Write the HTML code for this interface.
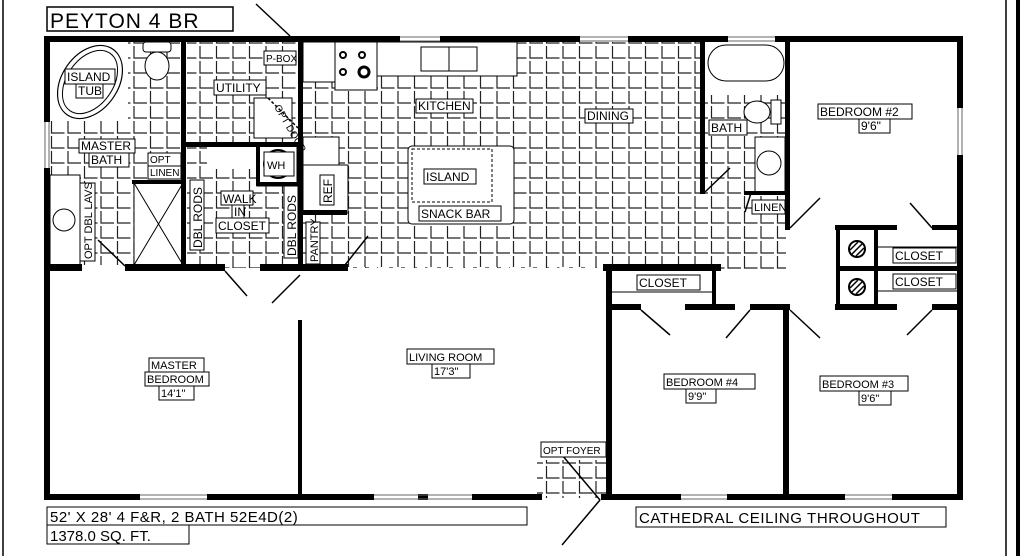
<!DOCTYPE html>
<html><head><meta charset="utf-8"><style>
html,body{margin:0;padding:0;background:#fff;}
svg{display:block}
text{font-family:"Liberation Sans",sans-serif;fill:#000;}
</style></head><body>
<svg width="1024" height="556" viewBox="0 0 1024 556" xmlns="http://www.w3.org/2000/svg">
<defs>
<pattern id="t" width="16.5" height="15" patternUnits="userSpaceOnUse">
<path d="M2 1 V13 H15" fill="none" stroke="#222" stroke-width="1.2"/>
</pattern>
</defs>
<rect width="1024" height="556" fill="#fff"/>
<line x1="3" y1="0" x2="3" y2="556" stroke="#000" stroke-width="1.5"/>
<line x1="1006" y1="0" x2="1006" y2="556" stroke="#000" stroke-width="1.5"/>
<line x1="1018" y1="0" x2="1018" y2="556" stroke="#000" stroke-width="4"/>
<rect x="50" y="42" width="133" height="223" fill="url(#t)"/>
<rect x="187" y="42" width="113" height="226" fill="url(#t)"/>
<rect x="300" y="42" width="400" height="226" fill="url(#t)"/>
<rect x="700" y="95" width="86" height="175" fill="url(#t)"/>
<rect x="537" y="440" width="69" height="58" fill="url(#t)"/>
<line x1="345" y1="268" x2="606" y2="268" stroke="#fff" stroke-width="2" stroke-dasharray="8 4"/>
<rect x="50" y="42" width="78" height="78" fill="#fff"/>
<ellipse cx="90" cy="82" rx="28" ry="40" transform="rotate(35 90 82)" fill="#fff" stroke="#000" stroke-width="1.2"/>
<ellipse cx="90" cy="82" rx="23" ry="35" transform="rotate(35 90 82)" fill="none" stroke="#000" stroke-width="1"/>
<rect x="143" y="42" width="28" height="10" rx="3" fill="#fff" stroke="#000"/>
<ellipse cx="157" cy="66" rx="12" ry="14" fill="#fff" stroke="#000"/>
<rect x="50" y="175" width="30" height="90" fill="#fff" stroke="#000"/>
<circle cx="64" cy="220" r="11" fill="#fff" stroke="#000"/>
<rect x="134" y="183" width="49" height="82" fill="#fff" stroke="#000"/>
<path d="M134 183 L183 265 M183 183 L134 265" stroke="#000" stroke-width="1"/>
<rect x="303" y="42" width="34" height="40" fill="#fff" stroke="#000"/>
<rect x="335" y="42" width="42" height="48" fill="#fff" stroke="#000"/>
<circle cx="343" cy="55" r="3" fill="none" stroke="#000" stroke-width="2"/><circle cx="362" cy="55" r="3" fill="none" stroke="#000" stroke-width="2"/>
<circle cx="343" cy="72" r="3" fill="none" stroke="#000" stroke-width="2"/><circle cx="364" cy="72" r="5" fill="none" stroke="#000" stroke-width="3"/>
<rect x="377" y="42" width="140" height="34" fill="#fff" stroke="#000"/>
<rect x="421" y="47" width="56" height="24" fill="#fff" stroke="#000"/>
<line x1="449" y1="47" x2="449" y2="71" stroke="#000"/>
<rect x="303" y="137" width="36" height="28" fill="#fff" stroke="#000"/>
<rect x="303" y="165" width="45" height="48" fill="#fff" stroke="#000"/>
<rect x="408" y="146" width="106" height="78" rx="4" fill="#fff" stroke="#000"/>
<rect x="412" y="149" width="80" height="53" fill="none" stroke="#000" stroke-dasharray="3 2"/>
<rect x="258" y="145" width="40" height="40" fill="#fff" stroke="#000" stroke-width="3"/>
<circle cx="278" cy="164" r="14" fill="#fff" stroke="#000" stroke-width="2"/>
<rect x="254" y="98" width="38" height="40" fill="#fff" stroke="#000"/>
<rect x="705" y="42" width="80" height="53" fill="#fff"/>
<rect x="708" y="45" width="76" height="36" rx="18" fill="#fff" stroke="#000"/>
<ellipse cx="757" cy="112" rx="13" ry="11" fill="#fff" stroke="#000"/>
<rect x="771" y="100" width="10" height="24" fill="#fff" stroke="#000"/>
<rect x="755" y="137" width="30" height="55" fill="#fff" stroke="#000"/>
<circle cx="769" cy="163" r="12" fill="#fff" stroke="#000"/>
<rect x="207" y="145" width="51" height="24" fill="#fff"/>
<rect x="537" y="440" width="69" height="20" fill="#fff"/>
<g fill="#000">
<rect x="44" y="36" width="260" height="6"/>
<rect x="300" y="36" width="100" height="6"/>
<rect x="440" y="36" width="140" height="6"/>
<rect x="628" y="36" width="100" height="6"/>
<rect x="775" y="36" width="188" height="6"/>
<rect x="44" y="36" width="6" height="86"/>
<rect x="44" y="168" width="6" height="332"/>
<rect x="957" y="36" width="6" height="72"/>
<rect x="957" y="155" width="6" height="345"/>
<rect x="44" y="494" width="96" height="6"/>
<rect x="207" y="494" width="167" height="6"/>
<rect x="418" y="494" width="10" height="6"/>
<rect x="472" y="494" width="70" height="6"/>
<rect x="601" y="494" width="80" height="6"/>
<rect x="727" y="494" width="118" height="6"/>
<rect x="892" y="494" width="71" height="6"/>
<rect x="181" y="42" width="5" height="224"/>
<rect x="132" y="180" width="52" height="4"/>
<rect x="44" y="264" width="38" height="7"/>
<rect x="125" y="264" width="100" height="7"/>
<rect x="260" y="264" width="88" height="7"/>
<rect x="186" y="142" width="117" height="5"/>
<rect x="298" y="42" width="5" height="228"/>
<rect x="256" y="144" width="4" height="42"/>
<rect x="256" y="182" width="46" height="4"/>
<rect x="303" y="210" width="44" height="5"/>
<rect x="700" y="42" width="5" height="152"/>
<rect x="785" y="42" width="5" height="188"/>
<rect x="744" y="191" width="42" height="4"/>
<rect x="603" y="264" width="118" height="7"/>
<rect x="606" y="264" width="6" height="236"/>
<rect x="712" y="270" width="4" height="38"/>
<rect x="606" y="304" width="35" height="6"/>
<rect x="685" y="304" width="50" height="6"/>
<rect x="783" y="304" width="6" height="196"/>
<rect x="750" y="304" width="40" height="6"/>
<rect x="835" y="225" width="62" height="5"/>
<rect x="932" y="225" width="31" height="5"/>
<rect x="836" y="225" width="4" height="84"/>
<rect x="874" y="225" width="4" height="84"/>
<rect x="836" y="266" width="127" height="5"/>
<rect x="835" y="304" width="62" height="6"/>
<rect x="932" y="304" width="31" height="6"/>
<rect x="298" y="320" width="4" height="178"/>
</g>
<line x1="878" y1="247" x2="957" y2="247" stroke="#000"/>
<line x1="878" y1="291" x2="957" y2="291" stroke="#000"/>
<line x1="612" y1="292" x2="712" y2="292" stroke="#000"/>
<circle cx="857" cy="249" r="8" fill="#fff" stroke="#000" stroke-width="2"/>
<circle cx="857" cy="287" r="8" fill="#fff" stroke="#000" stroke-width="2"/>
<g stroke="#000" stroke-width="1.5">
<line x1="852" y1="254" x2="862" y2="244"/><line x1="850" y1="250" x2="858" y2="242"/><line x1="856" y1="256" x2="864" y2="248"/>
<line x1="852" y1="292" x2="862" y2="282"/><line x1="850" y1="288" x2="858" y2="280"/><line x1="856" y1="294" x2="864" y2="286"/>
</g>
<g stroke="#666" stroke-width="1">
<line x1="140" y1="495" x2="207" y2="495"/><line x1="140" y1="499" x2="207" y2="499"/>
<line x1="374" y1="495" x2="472" y2="495"/><line x1="374" y1="499" x2="472" y2="499"/>
<line x1="681" y1="495" x2="727" y2="495"/><line x1="681" y1="499" x2="727" y2="499"/>
<line x1="845" y1="495" x2="892" y2="495"/><line x1="845" y1="499" x2="892" y2="499"/>
<line x1="45" y1="122" x2="45" y2="168"/><line x1="49" y1="122" x2="49" y2="168"/>
<line x1="958" y1="108" x2="958" y2="155"/><line x1="962" y1="108" x2="962" y2="155"/>
<line x1="400" y1="37" x2="440" y2="37"/><line x1="400" y1="41" x2="440" y2="41"/>
<line x1="580" y1="37" x2="628" y2="37"/><line x1="580" y1="41" x2="628" y2="41"/>
<line x1="728" y1="37" x2="775" y2="37"/><line x1="728" y1="41" x2="775" y2="41"/>
</g>
<g stroke="#000" stroke-width="1.5" fill="none">
<line x1="256" y1="4" x2="290" y2="36"/>
<line x1="98" y1="240" x2="125" y2="266"/>
<line x1="225" y1="271" x2="247" y2="296"/>
<line x1="272" y1="303" x2="300" y2="275"/>
<line x1="345" y1="265" x2="368" y2="236"/>
<line x1="705" y1="192" x2="730" y2="168"/>
<line x1="790" y1="228" x2="820" y2="198"/>
<line x1="910" y1="203" x2="932" y2="228"/>
<line x1="641" y1="310" x2="670" y2="335"/>
<line x1="750" y1="310" x2="726" y2="338"/>
<line x1="790" y1="310" x2="820" y2="338"/>
<line x1="932" y1="310" x2="907" y2="335"/>
<line x1="562" y1="455" x2="600" y2="500"/>
<line x1="600" y1="500" x2="562" y2="545"/>
<line x1="751" y1="193" x2="745" y2="212"/>
<line x1="268" y1="98" x2="298" y2="128" stroke-dasharray="3 2"/>
</g>
<g font-size="12" stroke="none">
<rect x="47" y="7" width="186" height="24" fill="#fff" stroke="#000" stroke-width="1.5"/>
<text x="50" y="28" font-size="21" letter-spacing="1">PEYTON 4 BR</text>
<g fill="#fff" stroke="#000" stroke-width="1">
<rect x="65" y="69" width="50" height="15"/><rect x="76" y="84" width="27" height="14"/>
<rect x="79" y="139" width="56" height="14"/><rect x="89" y="153" width="40" height="14"/>
<rect x="148" y="153" width="33" height="13"/><rect x="148" y="166" width="33" height="13"/>
<rect x="80" y="183" width="15" height="78"/>
<rect x="264" y="51" width="32" height="14"/>
<rect x="214" y="80" width="52" height="15"/>
<rect x="190" y="180" width="14" height="70"/>
<rect x="221" y="191" width="32" height="14"/><rect x="232" y="205" width="12" height="13"/><rect x="216" y="218" width="53" height="15"/>
<rect x="284" y="186" width="14" height="72"/>
<rect x="306" y="222" width="14" height="42"/>
<rect x="320" y="175" width="14" height="30"/>
<rect x="264" y="152" width="30" height="24"/>
<rect x="416" y="99" width="57" height="14"/>
<rect x="585" y="109" width="48" height="14"/>
<rect x="424" y="169" width="52" height="15"/>
<rect x="419" y="206" width="82" height="15"/>
<rect x="709" y="120" width="38" height="15"/>
<rect x="818" y="104" width="94" height="15"/><rect x="859" y="119" width="31" height="14"/>
<rect x="752" y="200" width="33" height="14"/>
<rect x="893" y="248" width="63" height="15"/>
<rect x="893" y="274" width="63" height="15"/>
<rect x="637" y="275" width="63" height="15"/>
<rect x="149" y="358" width="55" height="14"/><rect x="145" y="372" width="64" height="14"/><rect x="159" y="386" width="35" height="14"/>
<rect x="407" y="349" width="87" height="15"/><rect x="432" y="364" width="38" height="14"/>
<rect x="664" y="374" width="91" height="15"/><rect x="686" y="389" width="30" height="14"/>
<rect x="820" y="376" width="88" height="15"/><rect x="859" y="391" width="32" height="14"/>
<rect x="541" y="442" width="65" height="15"/>
<rect x="47" y="507" width="480" height="18"/>
<rect x="47" y="525" width="142" height="19"/>
<rect x="636" y="507" width="310" height="20"/>
</g>
<text x="67" y="81">ISLAND</text><text x="78" y="95">TUB</text>
<text x="81" y="150">MASTER</text><text x="91" y="164">BATH</text>
<text x="150" y="163" font-size="10">OPT</text><text x="150" y="176" font-size="10">LINEN</text>
<text transform="translate(92 259) rotate(-90)" font-size="11">OPT DBL LAVS</text>
<text x="266" y="62" font-size="10">P-BOX</text>
<text x="216" y="92">UTILITY</text>
<text transform="translate(274 107) rotate(60)" font-size="10">OPT DOOR</text>
<text x="267" y="169" font-size="11">WH</text>
<text transform="translate(202 248) rotate(-90)">DBL RODS</text>
<text x="223" y="203">WALK</text><text x="234" y="216">IN</text><text x="218" y="230">CLOSET</text>
<text transform="translate(296 256) rotate(-90)">DBL RODS</text>
<text transform="translate(318 262) rotate(-90)" font-size="11">PANTRY</text>
<text transform="translate(332 203) rotate(-90)">REF</text>
<text x="418" y="110">KITCHEN</text>
<text x="587" y="120">DINING</text>
<text x="426" y="181">ISLAND</text>
<text x="421" y="218">SNACK BAR</text>
<text x="711" y="132">BATH</text>
<text x="820" y="116">BEDROOM #2</text><text x="861" y="130">9'6"</text>
<text x="754" y="211" font-size="11">LINEN</text>
<text x="895" y="260">CLOSET</text>
<text x="895" y="286">CLOSET</text>
<text x="639" y="287">CLOSET</text>
<text x="151" y="369" font-size="11">MASTER</text><text x="147" y="383" font-size="11">BEDROOM</text><text x="161" y="397" font-size="11">14'1"</text>
<text x="409" y="361" font-size="11">LIVING ROOM</text><text x="434" y="375" font-size="11">17'3"</text>
<text x="666" y="386" font-size="11">BEDROOM #4</text><text x="688" y="400" font-size="11">9'9"</text>
<text x="822" y="388" font-size="11">BEDROOM #3</text><text x="861" y="402" font-size="11">9'6"</text>
<text x="543" y="454" font-size="10">OPT FOYER</text>
<text x="50" y="522" font-size="15" letter-spacing="0.5">52' X 28' 4 F&amp;R, 2 BATH   52E4D(2)</text>
<text x="50" y="541" font-size="15">1378.0 SQ. FT.</text>
<text x="639" y="523" font-size="15" letter-spacing="0.6">CATHEDRAL CEILING THROUGHOUT</text>
</g>
</svg>
</body></html>
